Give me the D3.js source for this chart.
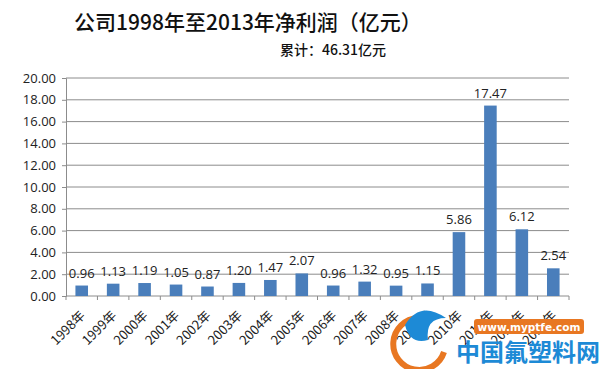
<!DOCTYPE html>
<html><head><meta charset="utf-8">
<script src="https://cdn.jsdelivr.net/npm/d3@7"></script>
<style>body{margin:0;background:#fff}svg{display:block}</style>
</head><body>
<script>
const categories = ["1998年","1999年","2000年","2001年","2002年","2003年","2004年","2005年","2006年","2007年","2008年","2009年","2010年","2011年","2012年","2013年"];
const values = [0.96,1.13,1.19,1.05,0.87,1.20,1.47,2.07,0.96,1.32,0.95,1.15,5.86,17.47,6.12,2.54];
const yTicks = [0,2,4,6,8,10,12,14,16,18,20];
const titleText = "公司1998年至2013年净利润（亿元）";
const subtitleText = "累计：46.31亿元";

const W = 606, H = 369;
const svg = d3.select("body").append("svg").attr("width", W).attr("height", H);
const font = "'Noto Sans CJK SC', 'Open Sans', sans-serif";

const x = d3.scaleBand().domain(categories).range([66, 569]).paddingInner(0.6).paddingOuter(0.3);
const y = d3.scaleLinear().domain([0, 20]).range([296, 78]);

// gridlines
svg.append("g").selectAll("line").data(yTicks.filter(d => d > 0)).join("line")
  .attr("x1", 66).attr("x2", 569).attr("y1", d => y(d)).attr("y2", d => y(d))
  .attr("stroke", "#8c8c8c").attr("stroke-width", 1);

// y axis
const yAxis = d3.axisLeft(y).tickValues(yTicks).tickFormat(d3.format(".2f")).tickSize(4).tickPadding(6);
const gy = svg.append("g").attr("transform", "translate(66,0)").call(yAxis);
gy.select(".domain").attr("stroke", "#8c8c8c");
gy.selectAll(".tick line").attr("stroke", "#8c8c8c");
gy.selectAll("text").attr("font-family", "'Open Sans', sans-serif").attr("font-size", 13).attr("fill", "#222");

// x axis
const gx = svg.append("g").attr("transform", "translate(0,296)");
gx.append("line").attr("x1", 66).attr("x2", 569).attr("stroke", "#8c8c8c");
gx.selectAll(".tk").data(d3.range(categories.length + 1)).join("line")
  .attr("x1", i => 66 + i * (503 / categories.length)).attr("x2", i => 66 + i * (503 / categories.length))
  .attr("y1", 0).attr("y2", 4).attr("stroke", "#8c8c8c");
gx.selectAll("text").data(categories).join("text")
  .attr("transform", d => `translate(${x(d) + x.bandwidth() / 2 + 1},${17}) rotate(-45)`)
  .attr("text-anchor", "end").attr("dy", "0.35em")
  .attr("font-family", font).attr("font-size", 13).attr("fill", "#222")
  .text(d => d);

// bars
svg.append("g").selectAll("rect").data(values).join("rect")
  .attr("x", (d, i) => x(categories[i])).attr("width", x.bandwidth())
  .attr("y", d => y(d)).attr("height", d => y(0) - y(d))
  .attr("fill", "#4a7ebb");

// labels
svg.append("g").selectAll("text").data(values).join("text")
  .attr("x", (d, i) => x(categories[i]) + x.bandwidth() / 2)
  .attr("y", d => y(d) - 8)
  .attr("text-anchor", "middle")
  .attr("font-family", "'Open Sans', sans-serif").attr("font-size", 13).attr("fill", "#222")
  .text(d => d.toFixed(2));

// title
svg.append("text").attr("x", 248).attr("y", 30).attr("text-anchor", "middle")
  .attr("font-family", font).attr("font-size", 21).attr("font-weight", 500).attr("fill", "#111")
  .text(titleText);
svg.append("text").attr("x", 333).attr("y", 55).attr("text-anchor", "middle")
  .attr("font-family", font).attr("font-size", 14).attr("font-weight", 500).attr("fill", "#111")
  .text(subtitleText);

// watermark
const wm = svg.append("g");
wm.append("path").attr("d", "M418,318 A26,26 0 1,0 444,352").attr("fill", "none").attr("stroke", "#e87722").attr("stroke-width", 6);
wm.append("path").attr("d", "M405,325 Q420,300 446,318 Q425,318 428,340 Q410,345 405,325 Z").attr("fill", "#1d8ad6");
wm.append("rect").attr("x", 474).attr("y", 319).attr("width", 110).attr("height", 15).attr("rx", 3).attr("fill", "#e87722");
wm.append("text").attr("x", 529).attr("y", 330.5).attr("text-anchor", "middle")
  .attr("font-family", "'DejaVu Sans', sans-serif").attr("font-weight", "bold").attr("font-size", 10.5).attr("fill", "#fff")
  .text("www.myptfe.com");
wm.append("text").attr("x", 528).attr("y", 361).attr("text-anchor", "middle")
  .attr("font-family", font).attr("font-weight", "bold").attr("font-size", 24).attr("fill", "#1d8ad6")
  .text("中国氟塑料网");
</script>
</body></html>
